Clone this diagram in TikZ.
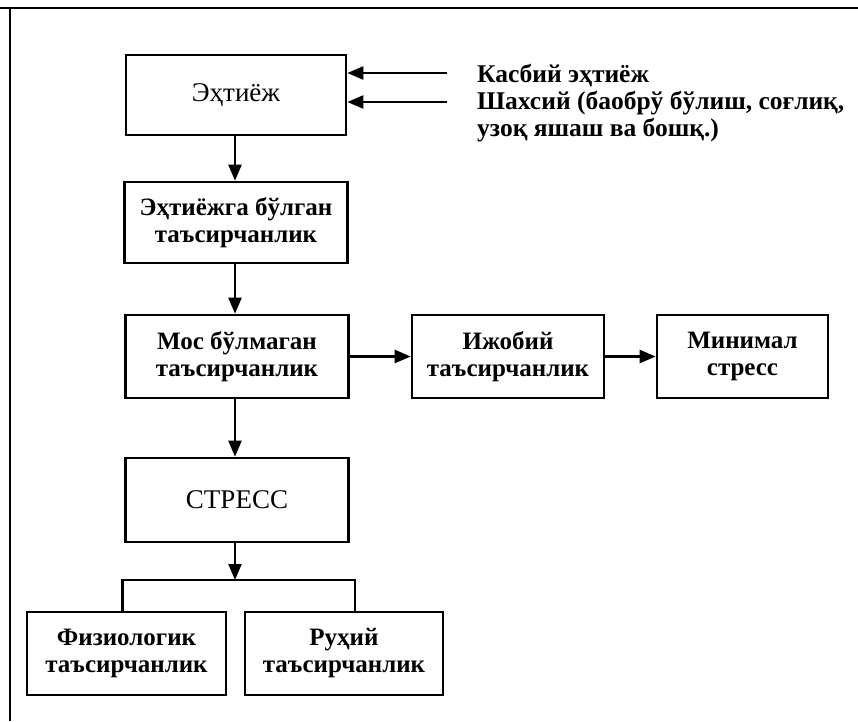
\documentclass[tikz,border=0pt]{standalone}
\usepackage{fontspec}
\setmainfont{Liberation Serif}
\usetikzlibrary{arrows.meta}
\begin{document}
\begin{tikzpicture}[x=1pt,y=-1pt,
  box/.style={draw, line width=2.6pt, align=center, inner sep=0pt,
    font=\fontsize{25}{27}\selectfont\bfseries},
  plainbox/.style={box, font=\fontsize{27}{29}\selectfont},
  arr/.style={line width=2.3pt, -{Triangle[length=16pt,width=13pt]}},
  conn/.style={line width=2.3pt},
  note/.style={anchor=base west, inner sep=0pt,
    font=\fontsize{25.5}{27}\selectfont\bfseries}]
\useasboundingbox (0,0) rectangle (858,721);
\draw[line width=2.4pt] (0,8) -- (858,8);
\draw[line width=2.4pt] (10,7) -- (10,721);

\node[plainbox, minimum width=220pt, minimum height=80pt] (need) at (236,95) {Эҳтиёж};
\node[box, minimum width=223pt, minimum height=81pt] (sens) at (236,222.5) {Эҳтиёжга бўлган\\таъсирчанлик};
\node[box, minimum width=223pt, minimum height=83pt] (mos) at (237,356.5) {Мос бўлмаган\\таъсирчанлик};
\node[box, minimum width=192pt, minimum height=83pt] (izh) at (508,356.5) {Ижобий\\таъсирчанлик};
\node[box, minimum width=171pt, minimum height=83pt] (min) at (742.5,356.5) {Минимал\\стресс};
\node[plainbox, minimum width=223pt, minimum height=84pt] (stress) at (237,500) {СТРЕСС};
\node[box, minimum width=199pt, minimum height=83pt] (fiz) at (126.5,653.5) {Физиологик\\таъсирчанлик};
\node[box, minimum width=198pt, minimum height=83pt] (ruh) at (344,653.5) {Руҳий\\таъсирчанлик};

\node[note] (t1) at (477,82) {Касбий эҳтиёж};
\node[note] (t2) at (477,109) {Шахсий (баобрў бўлиш, соғлиқ,};
\node[note] (t3) at (477,136) {узоқ яшаш ва бошқ.)};
\coordinate (in1) at (447,73);
\coordinate (in2) at (447,102);
\draw[arr] (in1) -- (in1 -| need.east);
\draw[arr] (in2) -- (in2 -| need.east);

\draw[arr] (need.south -| 235,0) -- (sens.north -| 235,0);
\draw[arr] (sens.south -| 235,0) -- (mos.north -| 235,0);
\draw[arr] (mos) -- (izh);
\draw[arr] (izh) -- (min);
\draw[arr] (mos.south -| 235,0) -- (stress.north -| 235,0);
\coordinate (sp) at (235,580);
\draw[arr] (stress.south -| sp) -- (sp);
\draw[conn] ([xshift=-4pt]fiz.north) |- (sp) -| ([xshift=11pt]ruh.north);
\end{tikzpicture}
\end{document}
